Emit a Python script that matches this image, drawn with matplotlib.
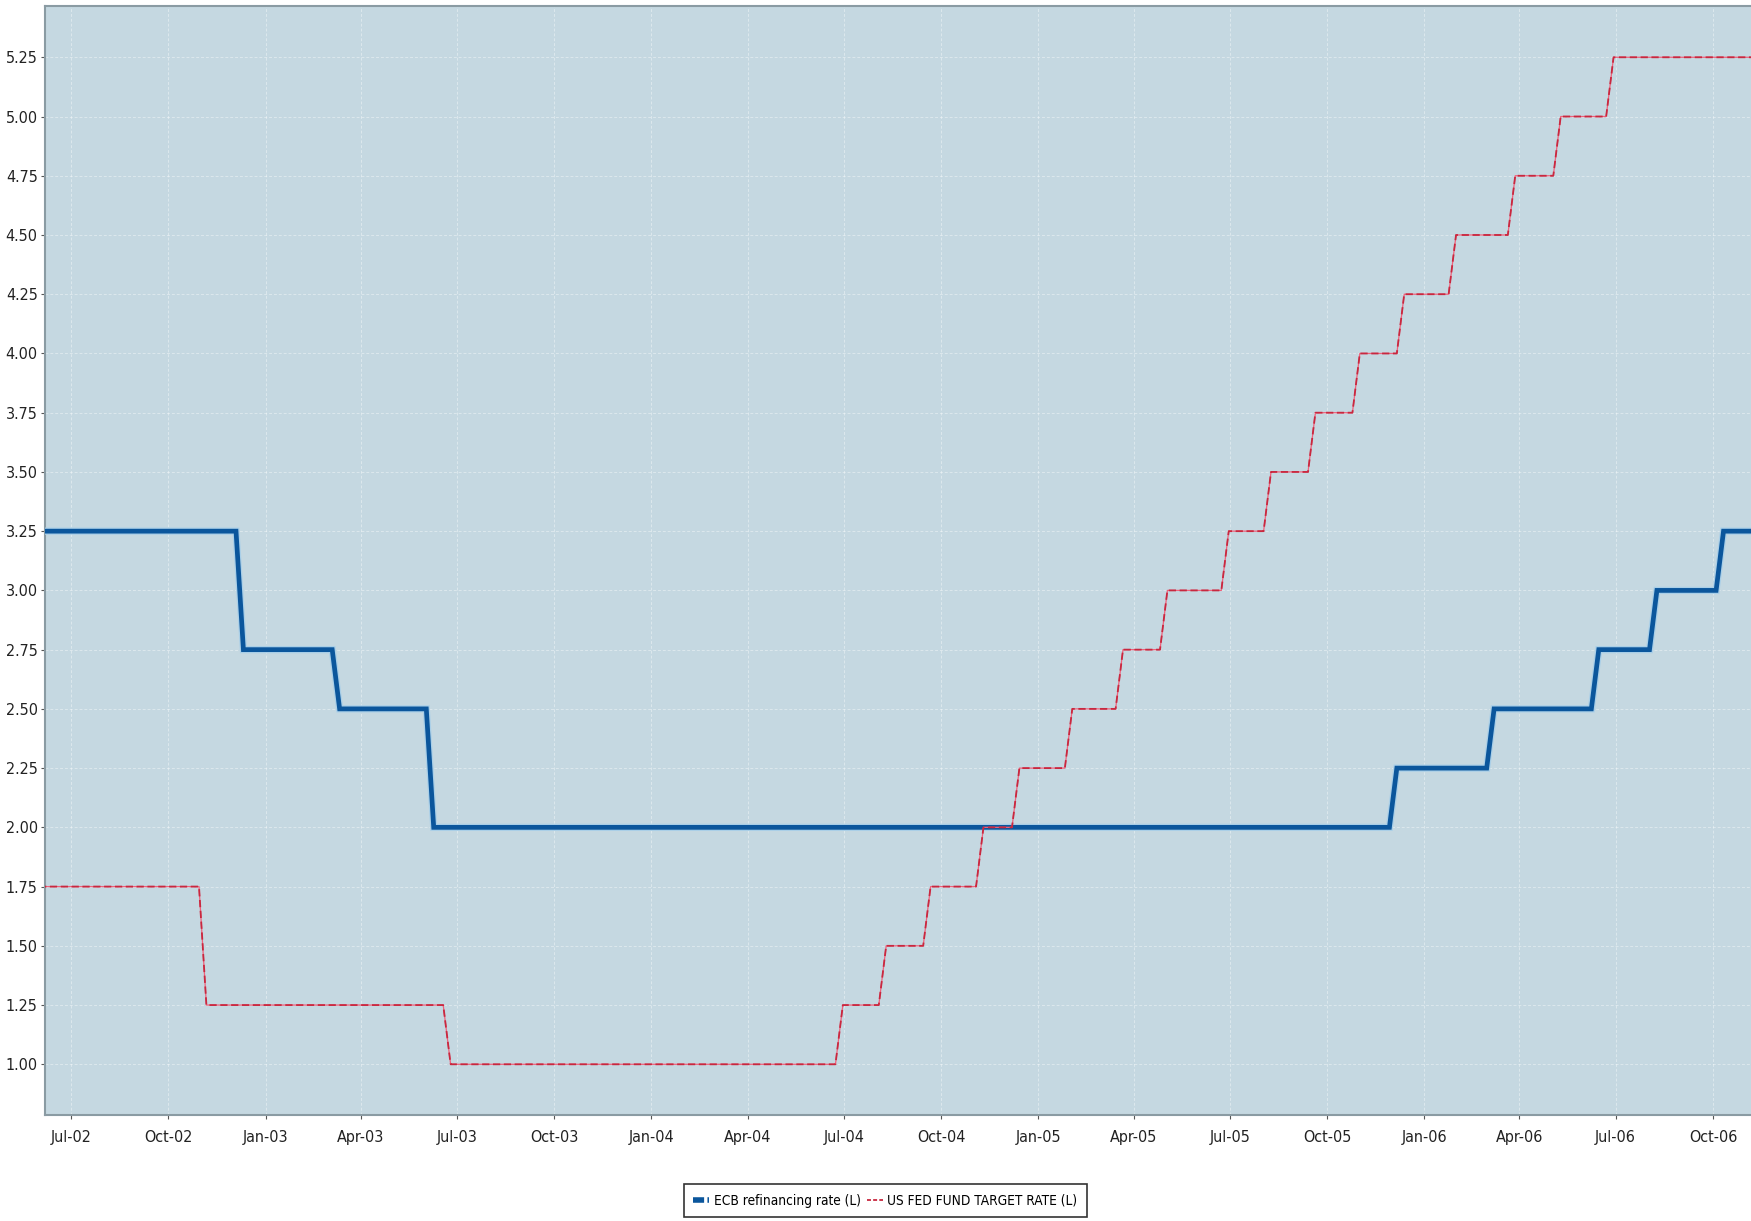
import matplotlib.pyplot as plt
import matplotlib.dates as mdates
from matplotlib.lines import Line2D
from datetime import date, timedelta

# policy rate levels (%); each level starts at the date listed
ecb_dates = [date(2002, 5, 1), date(2002, 12, 11), date(2003, 3, 12), date(2003, 6, 9),
             date(2005, 12, 6), date(2006, 3, 8), date(2006, 6, 15), date(2006, 8, 9),
             date(2006, 10, 11)]
ecb_rates = [3.25, 2.75, 2.50, 2.00, 2.25, 2.50, 2.75, 3.00, 3.25]

fed_dates = [date(2002, 5, 1), date(2002, 11, 6), date(2003, 6, 25), date(2004, 6, 30),
             date(2004, 8, 10), date(2004, 9, 21), date(2004, 11, 10), date(2004, 12, 14),
             date(2005, 2, 2), date(2005, 3, 22), date(2005, 5, 3), date(2005, 6, 30),
             date(2005, 8, 9), date(2005, 9, 20), date(2005, 11, 1), date(2005, 12, 13),
             date(2006, 1, 31), date(2006, 3, 28), date(2006, 5, 10), date(2006, 6, 29)]
fed_rates = [1.75, 1.25, 1.00, 1.25, 1.50, 1.75, 2.00, 2.25, 2.50, 2.75, 3.00, 3.25,
             3.50, 3.75, 4.00, 4.25, 4.50, 4.75, 5.00, 5.25]

labels = ['ECB refinancing rate (L)', 'US FED FUND TARGET RATE (L)']
end_date = date(2006, 12, 1)


def weekly_steps(dates, rates):
    # series is sampled weekly, so each move shows up as a short slope
    xs, ys = [dates[0]], [rates[0]]
    for d, r in zip(dates[1:], rates[1:]):
        xs.append(d - timedelta(days=7))
        ys.append(ys[-1])
        xs.append(d)
        ys.append(r)
    xs.append(end_date)
    ys.append(ys[-1])
    return xs, ys


ecb_x, ecb_y = weekly_steps(ecb_dates, ecb_rates)
fed_x, fed_y = weekly_steps(fed_dates, fed_rates)

plt.rcParams['font.family'] = ['Liberation Sans Narrow', 'DejaVu Sans']
plt.rcParams['font.stretch'] = 'condensed'

fig = plt.figure(figsize=(17.51, 12.21), dpi=100)
ax = fig.add_axes([0.0255, 0.0872, 0.9745, 0.908])
ax.set_facecolor('#c5d8e1')

ax.plot(ecb_x, ecb_y, color='#a9cfe8', linewidth=5.2, solid_joinstyle='miter', zorder=3)
ax.plot(ecb_x, ecb_y, color='#0b569c', linewidth=3.4, solid_joinstyle='miter', zorder=4)
ax.plot(fed_x, fed_y, color='#f0607a', linewidth=0.9, zorder=5)
ax.plot(fed_x, fed_y, color='#c8283f', linewidth=1.3, linestyle=(0, (4, 2)), zorder=6)

ax.set_xlim(date(2002, 6, 6), date(2006, 11, 6))
ax.set_ylim(0.788, 5.467)

ax.set_yticks([1.00 + 0.25 * i for i in range(18)])
ax.yaxis.set_major_formatter(plt.FormatStrFormatter('%.2f'))
ax.xaxis.set_major_locator(mdates.MonthLocator(bymonth=[1, 4, 7, 10]))
ax.xaxis.set_major_formatter(mdates.DateFormatter('%b-%y'))

ax.grid(True, color='white', linestyle=(0, (3, 2)), linewidth=0.7, alpha=0.4)
ax.set_axisbelow(True)
ax.tick_params(axis='both', labelsize=11.5, colors='#555555', length=3, width=0.8,
               labelcolor='#222222')
ax.tick_params(axis='x', pad=8)
ax.tick_params(axis='y', pad=2)

for side in ['left', 'bottom', 'top']:
    ax.spines[side].set_color('#8a9ba3')
    ax.spines[side].set_linewidth(1.5)
ax.spines['right'].set_visible(False)

handles = [Line2D([], [], color='#0b569c', linewidth=4, linestyle=(0, (2, 0.6))),
           Line2D([], [], color='#c8283f', linewidth=1.3, linestyle=(0, (2.2, 1.2)))]
leg = fig.legend(handles, labels, loc='upper center', bbox_to_anchor=(0.5055, 0.0303),
                 ncol=2, fontsize=9.8, frameon=True, fancybox=False, edgecolor='black',
                 handlelength=1.2, handletextpad=0.3, columnspacing=0.45,
                 borderpad=0.7, borderaxespad=0)
leg.get_frame().set_linewidth(1.2)

fig.savefig('out.png', dpi=100)
